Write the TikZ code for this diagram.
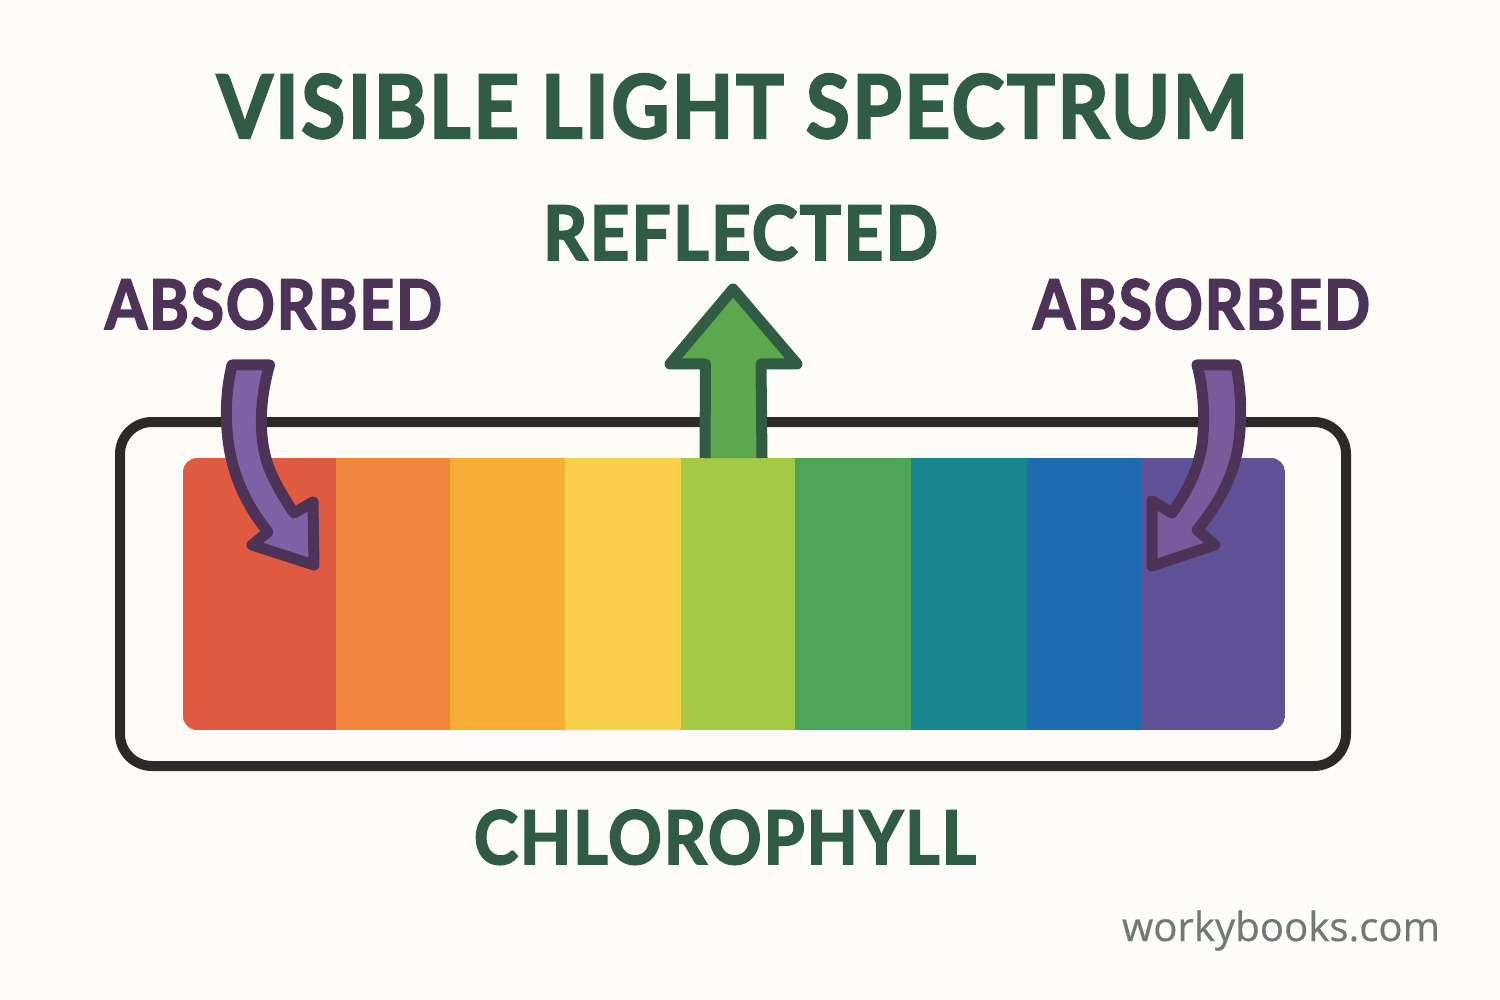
\documentclass[tikz,border=0pt]{standalone}
\usepackage{fontspec}
\usepackage{graphicx}
\setmainfont{Lato}[FakeBold=2.6,BoldFont={Lato Bold},LetterSpace=3]
\newfontfamily\wmfont{Open Sans}[FakeBold=0.5]
\definecolor{bgc}{HTML}{FEFCF6}
\definecolor{deepgreen}{HTML}{2F5C42}
\definecolor{plum}{HTML}{4D3358}
\definecolor{framec}{HTML}{2B2A28}
\definecolor{gfill}{HTML}{5DA84F}
\definecolor{pfill}{HTML}{7E62A6}
\definecolor{pfillb}{HTML}{7A5A9C}
\definecolor{wm}{HTML}{6F7A76}
\tikzset{
  x=0.5pt,y=-0.5pt,
  fitlabel/.style={anchor=base west,inner sep=0pt,outer sep=0pt},
  arrowline/.style={line width=5.5pt,line join=round,line cap=round},
  stripe/.style={draw=none}
}
% #1 width, #2 cap height (both in pt of the page), #3 text
\newcommand{\fitcaps}[3]{\resizebox{#1}{#2}{\fontsize{40}{48}\selectfont\bfseries #3}}
\begin{document}
\begin{tikzpicture}
\useasboundingbox (0,0) rectangle (1500,1000);
\fill[bgc] (0,0) rectangle (1500,1000);

% frame
\draw[framec,line width=5pt,rounded corners=16pt] (120,422) rectangle (1346,766);

% spectrum
\begin{scope}
\clip[rounded corners=7pt] (183,458) rectangle (1285,730);
\fill[stripe,fill={rgb,255:red,224;green,90;blue,65}]  (183,458) rectangle (336,730);
\fill[stripe,fill={rgb,255:red,240;green,133;blue,59}] (336,458) rectangle (450,730);
\fill[stripe,fill={rgb,255:red,246;green,174;blue,53}] (450,458) rectangle (565,730);
\fill[stripe,fill={rgb,255:red,249;green,208;blue,75}] (565,458) rectangle (681,730);
\fill[stripe,fill={rgb,255:red,163;green,201;blue,69}] (681,458) rectangle (795,730);
\fill[stripe,fill={rgb,255:red,74;green,165;blue,85}]  (795,458) rectangle (911,730);
\fill[stripe,fill={rgb,255:red,23;green,135;blue,141}] (911,458) rectangle (1027,730);
\fill[stripe,fill={rgb,255:red,31;green,107;blue,176}] (1027,458) rectangle (1142,730);
\fill[stripe,fill={rgb,255:red,95;green,82;blue,150}]  (1142,458) rectangle (1285,730);
\end{scope}

% left absorbed arrow
\draw[arrowline,draw=plum,fill=pfill]
  (232,365) -- (269.5,365)
  .. controls (261,395) and (259,425) .. (264,450)
  .. controls (268,472) and (280,492) .. (294,513)
  -- (313,502) -- (314,565) -- (252,545) -- (268,532)
  .. controls (250,510) and (233,480) .. (228,440)
  .. controls (225,415) and (226,390) .. (232,365) -- cycle;

% right absorbed arrow
\draw[arrowline,draw=plum,fill=pfillb]
  (1197,365) -- (1236,365)
  .. controls (1241,390) and (1242,415) .. (1239,440)
  .. controls (1235,475) and (1218,505) .. (1197,530)
  -- (1215,545) -- (1152,566) -- (1152,501) -- (1172,513)
  .. controls (1188,490) and (1198,470) .. (1202,445)
  .. controls (1205,420) and (1204,390) .. (1197,365) -- cycle;

% reflected arrow
\fill[gfill] (705,458) -- (705,364) -- (670,364) -- (733,289) -- (797,364) -- (762,364) -- (762,458) -- cycle;
\draw[arrowline,draw=deepgreen,line cap=butt]
  (705,458) -- (705.5,364) -- (670,364) -- (733,289) -- (797,364) -- (761,364) -- (762,458);

% labels
\node[fitlabel,text=deepgreen] (title) at (217,138) {\fitcaps{515.5pt}{32pt}{VISIBLE LIGHT SPECTRUM}};
\node[fitlabel,text=deepgreen] (reflected) at (543,260) {\fitcaps{197.5pt}{27.5pt}{REFLECTED}};
\node[fitlabel,text=plum] (absleft) at (105,329) {\fitcaps{168.5pt}{25pt}{ABSORBED}};
\node[fitlabel,text=plum] (absright) at (1033,329) {\fitcaps{168.5pt}{25pt}{ABSORBED}};
\node[fitlabel,text=deepgreen] (chloro) at (474,864) {\fitcaps{251pt}{27pt}{CHLOROPHYLL}};
\node[fitlabel,text=wm] (site) at (1122,941) {\resizebox{159pt}{!}{\wmfont\fontsize{20}{24}\selectfont workybooks.com}};
\end{tikzpicture}
\end{document}
